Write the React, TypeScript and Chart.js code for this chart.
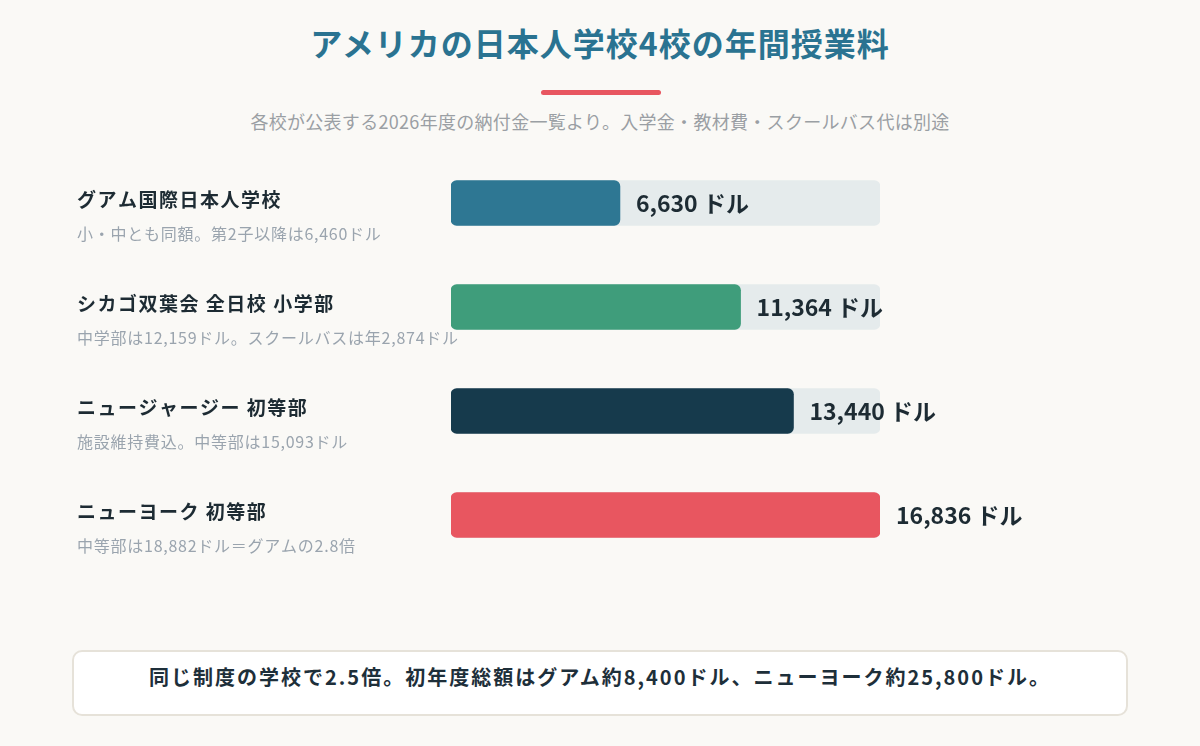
import React, { useEffect, useRef } from "react";
import { Chart, registerables } from "chart.js";

Chart.register(...registerables);

const schools = [
  "グアム国際日本人学校",
  "シカゴ双葉会 全日校 小学部",
  "ニュージャージー 初等部",
  "ニューヨーク 初等部",
];
const notes = [
  "小・中とも同額。第2子以降は6,460ドル",
  "中学部は12,159ドル。スクールバスは年2,874ドル",
  "施設維持費込。中等部は15,093ドル",
  "中等部は18,882ドル＝グアムの2.8倍",
];
const tuition = [6630, 11364, 13440, 16836];
const barColors = ["#2e7793", "#3f9d7b", "#163a4c", "#e85660"];
const trackMax = 16836;

const FONT = '"Noto Sans CJK JP", "Noto Sans", sans-serif';

export default function App() {
  const ref = useRef<HTMLCanvasElement | null>(null);

  useEffect(() => {
    document.body.style.margin = "0";
    document.body.style.background = "#faf9f6";
    const canvas = ref.current;
    if (!canvas) return;

    const labelPlugin = {
      id: "rowLabels",
      afterDatasetsDraw(chart: any) {
        const ctx = chart.ctx;
        const meta = chart.getDatasetMeta(0);
        ctx.save();
        meta.data.forEach((bar: any, i: number) => {
          const y = bar.y;
          ctx.textBaseline = "middle";
          ctx.textAlign = "left";
          ctx.fillStyle = "#1d2b33";
          ctx.font = `bold 19px ${FONT}`;
          (ctx as any).letterSpacing = "1.5px";
          ctx.fillText(schools[i], 77, y - 3);
          ctx.fillStyle = "#9aa4ae";
          ctx.font = `16px ${FONT}`;
          (ctx as any).letterSpacing = "0.75px";
          ctx.fillText(notes[i], 77, y + 31);
          (ctx as any).letterSpacing = "0px";
          ctx.fillStyle = "#1d2b33";
          ctx.font = `bold 23px ${FONT}`;
          ctx.fillText(tuition[i].toLocaleString("en-US") + " ドル", bar.x + 16, y);
        });
        ctx.restore();
      },
    };

    const chart = new Chart(canvas, {
      type: "bar",
      data: {
        labels: schools,
        datasets: [
          {
            data: tuition,
            backgroundColor: barColors,
            borderRadius: 6,
            borderSkipped: false,
            barThickness: 45,
            grouped: false,
          } as any,
          {
            data: schools.map(() => trackMax),
            backgroundColor: "#e5ebec",
            borderRadius: 6,
            borderSkipped: false,
            barThickness: 45,
            grouped: false,
          } as any,
        ],
      },
      options: {
        indexAxis: "y",
        animation: false,
        responsive: false,
        maintainAspectRatio: false,
        layout: { padding: { left: 451, right: 320, top: 1, bottom: 3 } },
        plugins: { legend: { display: false }, tooltip: { enabled: false } },
        scales: {
          x: { display: false, min: 0, max: trackMax },
          y: { display: false },
        },
      },
      plugins: [labelPlugin],
    });
    return () => chart.destroy();
  }, []);

  return (
    <div
      style={{
        position: "relative",
        width: 1200,
        height: 746,
        background: "#faf9f6",
        fontFamily: FONT,
        overflow: "hidden",
      }}
    >
      <div
        style={{
          position: "absolute",
          top: 18,
          left: 0,
          width: 1200,
          textAlign: "center",
          fontSize: 32,
          fontWeight: 700,
          color: "#2a7391",
          lineHeight: "48px",
          letterSpacing: "1px",
        }}
      >
        アメリカの日本人学校4校の年間授業料
      </div>
      <div
        style={{
          position: "absolute",
          top: 90,
          left: 541,
          width: 120,
          height: 5,
          borderRadius: 3,
          background: "#e85660",
        }}
      />
      <div
        style={{
          position: "absolute",
          top: 107,
          left: 0,
          width: 1200,
          textAlign: "center",
          fontSize: 18,
          color: "#9a9fa4",
          lineHeight: "28px",
          letterSpacing: "0.3px",
        }}
      >
        各校が公表する2026年度の納付金一覧より。入学金・教材費・スクールバス代は別途
      </div>
      <canvas
        ref={ref}
        width={1200}
        height={420}
        style={{ position: "absolute", top: 150, left: 0, width: 1200, height: 420 }}
      />
      <div
        style={{
          position: "absolute",
          top: 650,
          left: 72,
          width: 1056,
          height: 66,
          boxSizing: "border-box",
          border: "2px solid #e6e2d9",
          borderRadius: 10,
          background: "#ffffff",
          display: "flex",
          alignItems: "center",
          justifyContent: "center",
          fontSize: 20,
          fontWeight: 700,
          color: "#1e2f3a",
          letterSpacing: "2px",
          paddingBottom: 14,
        }}
      >
        同じ制度の学校で2.5倍。初年度総額はグアム約8,400ドル、ニューヨーク約25,800ドル。
      </div>
    </div>
  );
}
